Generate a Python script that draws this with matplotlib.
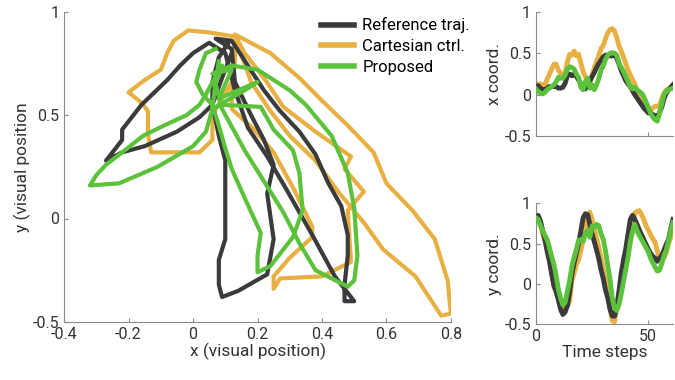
import numpy as np
import matplotlib.pyplot as plt

plt.rcParams['font.family'] = ['Roboto', 'DejaVu Sans']
plt.rcParams['font.size'] = 11.5

# time steps of the trajectories
steps = list(range(62))

# reference trajectory (visual position)
ref_x = [0.10, 0.11, 0.08, 0.06, 0.06, 0.08, 0.10, 0.10, 0.10, 0.10, 0.08, 0.08, 0.09,
         0.14, 0.23, 0.25, 0.23, 0.25, 0.22, 0.18, 0.13, 0.12, 0.07,
         0.12, 0.17, 0.22, 0.27, 0.33, 0.38, 0.42, 0.46, 0.48, 0.48, 0.47, 0.47,
         0.50, 0.44, 0.37, 0.29, 0.23, 0.17, 0.13, 0.10, 0.05,
         0.00, -0.04, -0.08, -0.12, -0.16, -0.19, -0.22, -0.22, -0.24, -0.25, -0.27,
         -0.22, -0.15, -0.05, 0.02, 0.06, 0.09, 0.12]
ref_y = [0.84, 0.85, 0.78, 0.66, 0.55, 0.40, 0.28, 0.12, -0.02, -0.10, -0.20, -0.32, -0.38,
         -0.35, -0.27, -0.10, 0.12, 0.26, 0.38, 0.50, 0.66, 0.82, 0.87,
         0.86, 0.74, 0.62, 0.52, 0.42, 0.31, 0.17, 0.06, -0.08, -0.18, -0.32, -0.40,
         -0.40, -0.28, -0.08, 0.14, 0.30, 0.44, 0.62, 0.80, 0.85,
         0.80, 0.74, 0.67, 0.61, 0.55, 0.49, 0.43, 0.38, 0.34, 0.32, 0.28,
         0.32, 0.35, 0.42, 0.49, 0.55, 0.68, 0.80]

# cartesian control
cart_x = [0.12, 0.13, 0.13, 0.12, 0.12, 0.19, 0.25, 0.31, 0.37, 0.37, 0.30, 0.25, 0.25,
          0.27, 0.40, 0.49, 0.48, 0.53, 0.47, 0.49, 0.38, 0.28, 0.22, 0.16, 0.13,
          0.24, 0.33, 0.40, 0.48, 0.56, 0.60, 0.68, 0.75, 0.79, 0.80,
          0.77, 0.69, 0.59, 0.53, 0.45, 0.38, 0.30, 0.24, 0.18, 0.13, 0.05,
          -0.015, -0.06, -0.08, -0.10, -0.15, -0.20, -0.16, -0.14, -0.14, -0.13,
          -0.05, 0.02, 0.06, 0.06, 0.09, 0.12]
cart_y = [0.80, 0.84, 0.76, 0.62, 0.53, 0.43, 0.32, 0.15, -0.04, -0.09, -0.19, -0.28, -0.34,
          -0.29, -0.28, -0.21, 0.04, 0.13, 0.24, 0.30, 0.42, 0.54, 0.68, 0.80, 0.89,
          0.80, 0.68, 0.57, 0.45, 0.32, 0.17, 0.04, -0.10, -0.30, -0.46,
          -0.47, -0.28, -0.15, -0.02, 0.13, 0.28, 0.40, 0.52, 0.66, 0.88, 0.90,
          0.91, 0.86, 0.80, 0.72, 0.67, 0.61, 0.56, 0.52, 0.41, 0.32,
          0.32, 0.32, 0.38, 0.50, 0.58, 0.66]

# proposed controller
prop_x = [0.07, 0.04, 0.02, 0.01, 0.03, 0.06, 0.08, 0.10, 0.12, 0.16, 0.21, 0.20, 0.20,
          0.24, 0.31, 0.34, 0.33, 0.31, 0.25, 0.21, 0.09, 0.06, 0.16, 0.20, 0.08, 0.12, 0.06, 0.12,
          0.20, 0.30, 0.35, 0.43, 0.48, 0.50, 0.51, 0.50,
          0.48, 0.38, 0.33, 0.28, 0.22, 0.16, 0.09, 0.07, 0.09,
          0.06, 0.04, 0.02, -0.02, -0.09, -0.155, -0.22, -0.27, -0.30, -0.32,
          -0.23, -0.11, 0.00, 0.04, 0.06, 0.07, 0.08]
prop_y = [0.82, 0.80, 0.72, 0.66, 0.60, 0.55, 0.45, 0.34, 0.24, 0.10, -0.07, -0.18, -0.26,
          -0.23, -0.09, 0.04, 0.22, 0.33, 0.43, 0.54, 0.55, 0.53, 0.62, 0.66, 0.58, 0.72, 0.70, 0.74,
          0.72, 0.62, 0.55, 0.40, 0.22, 0.05, -0.18, -0.30,
          -0.33, -0.25, -0.12, 0.03, 0.18, 0.33, 0.53, 0.65, 0.74,
          0.66, 0.60, 0.55, 0.50, 0.45, 0.40, 0.32, 0.26, 0.21, 0.16,
          0.17, 0.25, 0.35, 0.42, 0.53, 0.66, 0.76]

series_labels = ['Reference traj.', 'Cartesian ctrl.', 'Proposed']
series_colors = ['#3b3b3b', '#e8b042', '#5cc23c']

fig = plt.figure(figsize=(6.75, 3.8), dpi=100)
ax_xy = fig.add_axes([0.095, 0.153, 0.573, 0.816])
ax_tx = fig.add_axes([0.794, 0.642, 0.203, 0.326])
ax_ty = fig.add_axes([0.794, 0.147, 0.203, 0.318])

xs = [ref_x, cart_x, prop_x]
ys = [ref_y, cart_y, prop_y]
zs = [3, 2, 4]

for x, y, lab, col, z in zip(xs, ys, series_labels, series_colors, zs):
    ax_xy.plot(x, y, color=col, lw=3, label=lab, zorder=z, solid_joinstyle='round')
    ax_tx.plot(steps, x, color=col, lw=3.5, zorder=z, solid_joinstyle='round')
    ax_ty.plot(steps, y, color=col, lw=3.5, zorder=z, solid_joinstyle='round')

def style(ax):
    for s in ['top', 'right']:
        ax.spines[s].set_visible(False)
    for s in ['left', 'bottom']:
        ax.spines[s].set_color('#8a8a8a')
        ax.spines[s].set_linewidth(0.8)
    ax.tick_params(direction='in', length=3, width=0.8, color='#8a8a8a',
                   labelcolor='#333333', labelsize=11.5)

style(ax_xy)
ax_xy.set_xlim(-0.4, 0.8)
ax_xy.set_ylim(-0.5, 1)
ax_xy.set_xticks([-0.4, -0.2, 0, 0.2, 0.4, 0.6, 0.8])
ax_xy.set_xticklabels(['-0.4', '-0.2', '0', '0.2', '0.4', '0.6', '0.8'])
ax_xy.set_yticks([-0.5, 0, 0.5, 1])
ax_xy.set_yticklabels(['-0.5', '0', '0.5', '1'])
ax_xy.set_xlabel('x (visual position)', color='#333333', labelpad=1, fontsize=12.5)
ax_xy.set_ylabel('y (visual position', color='#333333', labelpad=1, fontsize=12.5)

leg = ax_xy.legend(loc='upper left', bbox_to_anchor=(0.458, 0.985), bbox_transform=fig.transFigure,
                   frameon=False, handlelength=2.0, handletextpad=0.5, labelspacing=0.35,
                   borderpad=0.2, fontsize=12)
for h in leg.get_lines():
    h.set_linewidth(4)

for ax in (ax_tx, ax_ty):
    style(ax)
    ax.set_xlim(0, 61)
    ax.set_ylim(-0.5, 1)
    ax.set_xticks([0, 50])
    ax.set_yticks([-0.5, 0, 0.5, 1])
    ax.set_yticklabels(['-0.5', '0', '0.5', '1'])

ax_tx.set_xticklabels([])
ax_ty.set_xticklabels(['0', '50'])
ax_tx.set_ylabel('x coord.', color='#333333', labelpad=2, fontsize=12.5)
ax_ty.set_ylabel('y coord.', color='#333333', labelpad=2, fontsize=12.5)
ax_ty.set_xlabel('Time steps', color='#333333', labelpad=1, fontsize=12.5)

fig.savefig('out.png', dpi=100)
